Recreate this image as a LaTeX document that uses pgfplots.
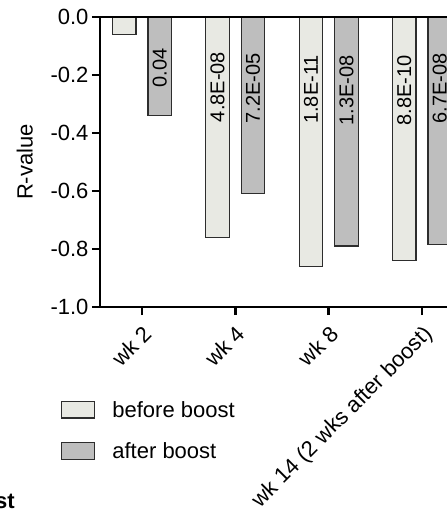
\documentclass[border=0pt]{standalone}
\usepackage{pgfplots}
\pgfplotsset{compat=1.18}
\usepackage{fontspec}
\setmainfont{Liberation Sans}
\definecolor{beforec}{RGB}{232,233,227}
\definecolor{afterc}{RGB}{190,190,190}
\definecolor{edgec}{RGB}{45,45,45}
\tikzset{lbl/.style={rotate=90, anchor=east, inner sep=0pt, font=\fontsize{20}{22}\selectfont}}
\pgfplotsset{boxlegend/.style={legend image code/.code={\draw[##1, line width=1.2pt] (0pt,-8pt) rectangle (33pt,8.5pt); \path (48pt,0pt);}}}
\begin{document}
\begin{tikzpicture}
\useasboundingbox (-100pt,-203pt) rectangle (346pt,307pt);
\begin{axis}[
  at={(0,0)}, anchor=south west,
  scale only axis, width=364pt, height=290pt,
  xmin=-0.45, xmax=3.45, ymin=-1, ymax=0,
  clip=false,
  axis x line*=bottom, axis y line*=left,
  axis line style={line width=2.4pt},
  xtick={0,1,2,3},
  xticklabels={wk 2, wk 4, wk 8, wk 14 (2 wks after boost)},
  ytick={-1,-0.8,-0.6,-0.4,-0.2,0},
  tick style={line width=2.4pt, black},
  major tick length=8pt, tick align=outside,
  yticklabel style={font=\fontsize{22}{26}\selectfont, /pgf/number format/.cd, fixed, fixed zerofill, precision=1, assume math mode=true},
  xticklabel style={font=\fontsize{22}{26}\selectfont, rotate=45, anchor=north east, inner sep=2pt},
  xticklabel shift=6pt,
  ylabel={R-value},
  ylabel style={at={(axis description cs:-0.184,0.5)}, anchor=south, inner sep=0pt, font=\fontsize{22}{26}\selectfont},
  legend style={at={(axis description cs:0,0)}, anchor=north west, xshift=-42pt, yshift=-90pt, draw=none, fill=none, font=\fontsize{22}{26}\selectfont, row sep=20pt, legend cell align=left},
]
\addplot[ybar, bar width=23.5pt, bar shift=-17.7pt, fill=beforec, draw=edgec, line width=1.2pt, boxlegend]
  coordinates {(0,-0.06) (1,-0.76) (2,-0.86) (3,-0.84)};
\addlegendentry{before boost}
\addplot[ybar, bar width=23.5pt, bar shift=17.7pt, fill=afterc, draw=edgec, line width=1.2pt, boxlegend]
  coordinates {(0,-0.34) (1,-0.61) (2,-0.79) (3,-0.785)};
\addlegendentry{after boost}
\draw[line width=2.4pt] (rel axis cs:0,1) -- (rel axis cs:1,1);
\node[lbl] at (axis cs:0.19,-0.107) {0.04};
\node[lbl] at (axis cs:0.81,-0.12) {4.8E-08};
\node[lbl] at (axis cs:1.19,-0.124) {7.2E-05};
\node[lbl] at (axis cs:1.81,-0.131) {1.8E-11};
\node[lbl] at (axis cs:2.19,-0.131) {1.3E-08};
\node[lbl] at (axis cs:2.81,-0.131) {8.8E-10};
\node[lbl] at (axis cs:3.19,-0.124) {6.7E-08};
\end{axis}
\node[anchor=base east, inner sep=0pt, font=\bfseries\fontsize{22}{26}\selectfont] at (-85pt,-201pt) {st};
\end{tikzpicture}
\end{document}
